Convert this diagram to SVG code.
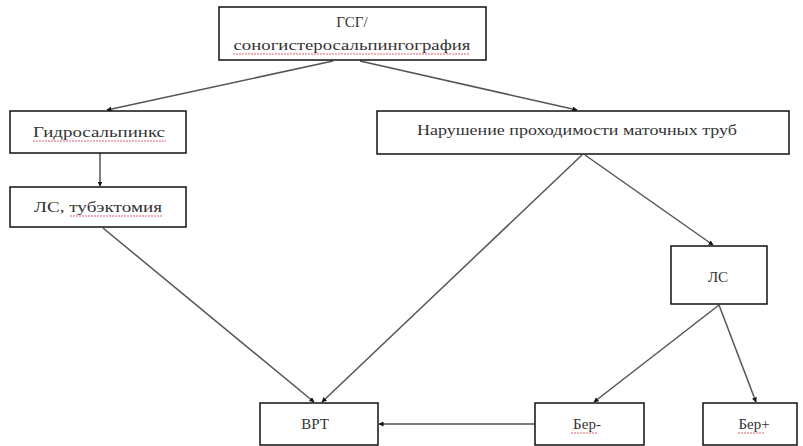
<svg xmlns="http://www.w3.org/2000/svg" width="803" height="446" viewBox="0 0 803 446">
<defs>
<style>
.box{fill:#fff;stroke:#111;stroke-width:1.5}
text{font-family:'Liberation Serif','DejaVu Serif','Times New Roman',serif;font-size:15px;fill:#333;text-anchor:middle}
.c{stroke:#555;stroke-width:1.5;fill:none;marker-end:url(#ah)}
.sq{stroke:#e06070;stroke-width:1;fill:none;stroke-dasharray:2 1}
</style>
<marker id="ah" viewBox="0 0 10 10" refX="9" refY="5" markerWidth="5" markerHeight="5" orient="auto" markerUnits="userSpaceOnUse">
<path d="M0,0 L10,5 L0,10 z" fill="#111"/>
</marker>
</defs>
<rect width="803" height="446" fill="#fff"/>
<g id="connectors">
<line class="c" x1="333" y1="61" x2="107" y2="110"/>
<line class="c" x1="360" y1="61" x2="577" y2="110"/>
<line class="c" x1="100" y1="153" x2="100" y2="186"/>
<line class="c" x1="103" y1="228" x2="314" y2="402"/>
<line class="c" x1="582" y1="155" x2="322" y2="402"/>
<line class="c" x1="585" y1="155" x2="713" y2="245"/>
<line class="c" x1="719" y1="305" x2="594" y2="402"/>
<line class="c" x1="719" y1="305" x2="756" y2="402"/>
<line class="c" x1="535" y1="424" x2="379" y2="424"/>
</g>
<g font-family="Liberation Serif, DejaVu Serif, serif">
<g id="n-gsg">
<rect class="box" x="219" y="7" width="267" height="53"/>
<text x="352" y="27">ГСГ/</text>
<text x="352" y="50" textLength="237" lengthAdjust="spacingAndGlyphs">соногистеросальпингография</text>
<path class="sq" d="M233,54 H470"/>
</g>
<g id="n-hydro">
<rect class="box" x="10" y="111" width="176" height="42"/>
<text x="99" y="137" textLength="132" lengthAdjust="spacingAndGlyphs">Гидросальпинкс</text>
<path class="sq" d="M33,141 H166"/>
</g>
<g id="n-ls-tub">
<rect class="box" x="10" y="187" width="176" height="40"/>
<text x="98" y="212" textLength="128" lengthAdjust="spacingAndGlyphs">ЛС, тубэктомия</text>
<path class="sq" d="M70,216 H162"/>
</g>
<g id="n-narush">
<rect class="box" x="377" y="111" width="412" height="43"/>
<text x="577" y="135" textLength="320" lengthAdjust="spacingAndGlyphs">Нарушение проходимости маточных труб</text>
</g>
<g id="n-ls">
<rect class="box" x="671" y="246" width="96" height="58"/>
<text x="718" y="282">ЛС</text>
</g>
<g id="n-vrt">
<rect class="box" x="260" y="403" width="118" height="42"/>
<text x="315" y="429">ВРТ</text>
</g>
<g id="n-ber-minus">
<rect class="box" x="535" y="403" width="109" height="42"/>
<text x="587" y="429">Бер-</text>
<path class="sq" d="M571,433 H598"/>
</g>
<g id="n-ber-plus">
<rect class="box" x="703" y="403" width="94" height="42"/>
<text x="754" y="429">Бер+</text>
<path class="sq" d="M738,433 H764"/>
</g>
</g>
</svg>
